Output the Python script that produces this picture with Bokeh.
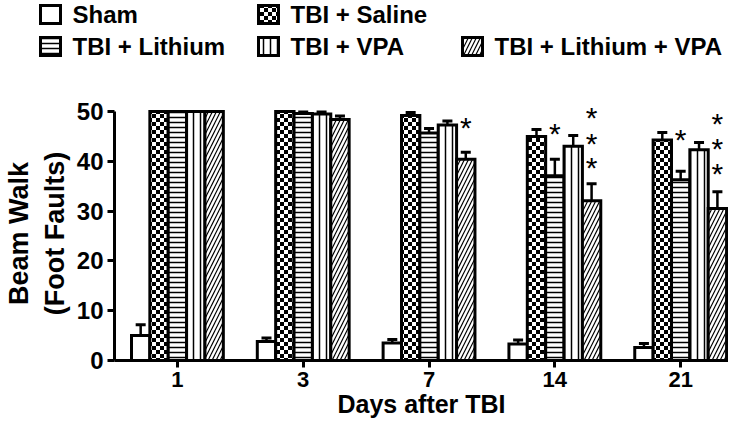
import base64
import struct
import zlib
from bokeh.plotting import figure
from bokeh.models import Range1d, FixedTicker, ColumnDataSource, ImageURLTexture
from bokeh.layouts import column
from bokeh.core.properties import value
from bokeh.transform import dodge
from bokeh.embed import file_html
from bokeh.resources import INLINE

# ---------------- data ----------------
days = ["1", "3", "7", "14", "21"]
groups = ["Sham", "TBI + Saline", "TBI + Lithium", "TBI + VPA", "TBI + Lithium + VPA"]

sham = [5.0, 3.8, 3.5, 3.3, 2.6]
sham_err = [2.2, 0.7, 0.7, 0.8, 0.8]
saline = [50.0, 50.0, 49.2, 45.0, 44.3]
saline_err = [0.0, 0.0, 0.6, 1.4, 1.5]
lithium = [50.0, 49.6, 45.7, 37.1, 36.3]
lithium_err = [0.0, 0.3, 0.9, 3.3, 1.7]
vpa = [50.0, 49.5, 47.3, 43.0, 42.3]
vpa_err = [0.0, 0.4, 0.8, 2.2, 1.5]
livpa = [50.0, 48.4, 40.4, 32.1, 30.5]
livpa_err = [0.0, 0.7, 1.4, 3.4, 3.4]

star_day = ["7", "14", "14", "14", "14", "21", "21", "21", "21"]
star_group = [4, 2, 4, 4, 4, 2, 4, 4, 4]
star_y = [46.8, 45.6, 48.7, 43.6, 38.8, 44.3, 47.6, 42.5, 37.6]

y_ticks = [0, 10, 20, 30, 40, 50]

means = [sham, saline, lithium, vpa, livpa]
errs = [sham_err, saline_err, lithium_err, vpa_err, livpa_err]

# ---------------- styling ----------------
FONT = "Liberation Sans"
W = 728
H_LEG = 74
H_MAIN = 351
FRAME_L = 107
FRAME_T = 32
FRAME_B = 65
PX_PER_CAT = 127.25
PX_PER_50 = 249.0


def checker_png(cell=4):
    n = cell * 2
    rows = b""
    for yy in range(n):
        row = bytearray([0])
        for xx in range(n):
            black = ((xx // cell) + (yy // cell)) % 2 == 0
            row += bytes([0 if black else 255])
        rows += bytes(row)

    def chunk(tag, data):
        c = struct.pack(">I", len(data)) + tag + data
        return c + struct.pack(">I", zlib.crc32(tag + data) & 0xFFFFFFFF)

    png = b"\x89PNG\r\n\x1a\n"
    png += chunk(b"IHDR", struct.pack(">IIBBBBB", n, n, 8, 0, 0, 0, 0))
    png += chunk(b"IDAT", zlib.compress(rows))
    png += chunk(b"IEND", b"")
    return "data:image/png;base64," + base64.b64encode(png).decode()


checker = ImageURLTexture(url=checker_png(4))

styles = [
    dict(),
    dict(hatch_pattern=value("checker"), hatch_extra={"checker": checker},
         hatch_scale=8, hatch_color="black"),
    dict(hatch_pattern="horizontal_line", hatch_scale=5, hatch_weight=1.5, hatch_color="black"),
    dict(hatch_pattern="vertical_line", hatch_scale=7, hatch_weight=1.5, hatch_color="black"),
    dict(hatch_pattern="right_diagonal_line", hatch_scale=8, hatch_weight=1.2, hatch_color="black"),
]

frame_h = H_MAIN - FRAME_T - FRAME_B
x_end = -0.5 + (W - FRAME_L) / PX_PER_CAT
y_end = 50 * frame_h / PX_PER_50

p = figure(width=W, height=H_MAIN, x_range=Range1d(-0.5, x_end), y_range=Range1d(0, y_end),
           output_backend="svg", toolbar_location=None,
           min_border_left=FRAME_L, min_border_right=0,
           min_border_top=FRAME_T, min_border_bottom=FRAME_B)
p.outline_line_color = None
p.xgrid.visible = False
p.ygrid.visible = False

bw = 0.146
offsets = [(k - 2) * bw for k in range(len(groups))]
xs = list(range(len(days)))

for k in range(len(groups)):
    upper = [m + e for m, e in zip(means[k], errs[k])]
    src = ColumnDataSource(dict(x=xs, top=means[k], upper=upper))
    xd = dodge("x", offsets[k], range=p.x_range)
    p.vbar(x=xd, top="top", bottom=0, width=bw, source=src,
           fill_color="white", line_color="black", line_width=3, line_join="miter",
           **styles[k])
    p.segment(x0=xd, y0="top", x1=xd, y1="upper", source=src,
              line_color="black", line_width=2.5)
    p.scatter(x=xd, y="upper", source=src, marker="dash", size=10,
              line_color="black", line_width=3)

sx = [days.index(d) + offsets[g] for d, g in zip(star_day, star_group)]
p.text(x=sx, y=star_y, text=["*"] * len(sx), text_font=value(FONT),
       text_font_size="30px", text_align="center", text_baseline="middle",
       text_color="black")

for ax in (p.xaxis[0], p.yaxis[0]):
    ax.axis_line_width = 3
    ax.major_tick_line_width = 3
    ax.major_tick_out = 7
    ax.major_tick_in = 0
    ax.minor_tick_line_color = None
    ax.major_label_text_font = FONT
    ax.major_label_text_font_style = "bold"
    ax.major_label_text_color = "black"
    ax.axis_label_text_font = FONT
    ax.axis_label_text_font_style = "bold"
    ax.axis_label_text_color = "black"

p.xaxis.ticker = FixedTicker(ticks=xs)
p.xaxis.major_label_overrides = {i: d for i, d in enumerate(days)}
p.xaxis.major_label_text_font_size = "22px"
p.xaxis.major_label_standoff = 4
p.xaxis.axis_label = "Days after TBI"
p.xaxis.axis_label_text_font_size = "25px"
p.xaxis.axis_label_standoff = 0

p.yaxis.ticker = FixedTicker(ticks=y_ticks)
p.yaxis.bounds = (0, 50)
p.yaxis.major_label_text_font_size = "24px"
p.yaxis.major_label_standoff = 4
p.yaxis.axis_label = "Beam Walk\n(Foot Faults)"
p.yaxis.axis_label_text_font_size = "27px"
p.yaxis.axis_label_standoff = 4

# ---------------- legend ----------------
leg = figure(width=W, height=H_LEG, x_range=Range1d(0, W), y_range=Range1d(H_LEG, 0),
             x_axis_type=None, y_axis_type=None, output_backend="svg",
             toolbar_location=None, min_border=0)
leg.outline_line_color = None
leg.xgrid.visible = False
leg.ygrid.visible = False
for fig in (leg, p):
    try:
        fig.frame_align = False
    except Exception:
        pass

col_x = [40, 258, 462]
row_y = [14, 46]
slots = [(0, 0), (1, 0), (0, 1), (1, 1), (2, 1)]
BOX_W, BOX_H, GAP = 20, 18, 12
for k, (c, r) in enumerate(slots):
    cx, ry = col_x[c], row_y[r]
    leg.quad(left=[cx], right=[cx + BOX_W], top=[ry - BOX_H / 2], bottom=[ry + BOX_H / 2],
             fill_color="white", line_color="black", line_width=3, line_join="miter",
             **styles[k])
    leg.text(x=[cx + BOX_W + GAP], y=[ry], text=[groups[k]], text_font=value(FONT),
             text_font_style="bold", text_font_size="24px", text_baseline="middle",
             text_align="left", text_color="black")

layout = column(leg, p)
open("out.html", "w").write(file_html(layout, INLINE))
